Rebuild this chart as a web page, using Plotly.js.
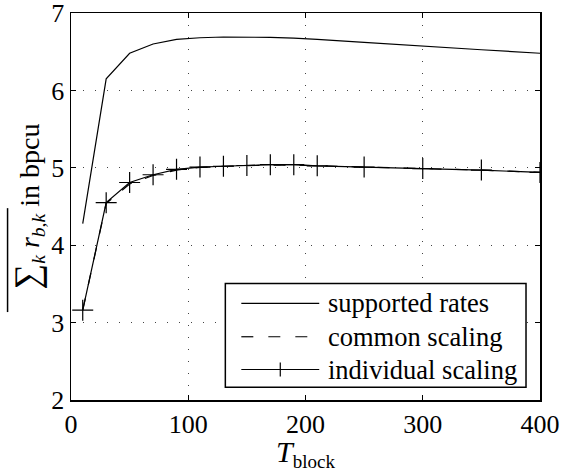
<!DOCTYPE html>
<html>
<head>
<meta charset="utf-8">
<script src="https://cdn.plot.ly/plotly-3.0.1.min.js"></script>
<style>html,body{margin:0;padding:0;background:#fff;}#chart{width:562px;height:472px;}</style>
</head>
<body>
<div id="chart"></div>
<script>
var tBlock = [10, 30, 50, 70, 90, 110, 130, 150, 170, 190, 210, 250, 300, 350, 400];
var supportedRates = [4.28, 6.15, 6.48, 6.60, 6.66, 6.68, 6.69, 6.69, 6.685, 6.675, 6.66, 6.62, 6.57, 6.525, 6.48];
var commonScaling = [3.16, 4.54, 4.79, 4.90, 4.97, 5.005, 5.02, 5.03, 5.035, 5.035, 5.025, 5.01, 4.99, 4.97, 4.94];
var individualScaling = [3.16, 4.55, 4.81, 4.91, 4.98, 5.01, 5.02, 5.03, 5.04, 5.04, 5.025, 5.01, 4.99, 4.97, 4.94];
var seriesNames = ['supported rates', 'common scaling', 'individual scaling'];
var xTicks = [0, 100, 200, 300, 400];
var yTicks = [2, 3, 4, 5, 6, 7];

var FONT = 'Liberation Serif, DejaVu Serif';

var traces = [
  {x: tBlock, y: supportedRates, name: seriesNames[0], mode: 'lines', type: 'scatter',
   line: {color: '#000', width: 1.2}},
  {x: tBlock, y: commonScaling, name: seriesNames[1], mode: 'lines', type: 'scatter',
   line: {color: '#000', width: 1.2, dash: '12px,14px'}},
  {x: tBlock, y: individualScaling, name: seriesNames[2], mode: 'lines+markers', type: 'scatter',
   line: {color: '#000', width: 1.2},
   marker: {symbol: 'cross-thin', size: 15, color: '#000', line: {color: '#000', width: 1.2}}}
];

var axisCommon = {
  showline: true, linecolor: '#000', linewidth: 1.5, mirror: 'ticks',
  ticks: 'inside', ticklen: 5, tickwidth: 1, tickcolor: '#000',
  showgrid: true, gridcolor: '#444', gridwidth: 1, griddash: '1px,11px',
  zeroline: false, ticklabeloverflow: 'allow',
  tickfont: {family: FONT, size: 26, color: '#000'}
};

// custom legend (MATLAB style: long line samples)
function px2x(px) { return (px - 70.5) / 469.5; }
function px2y(py) { return (400 - py) / 387.3; }
var legRowsPx = [303.3, 336.7, 369.5];
var legX0 = px2x(241), legX1 = px2x(319), legTextX = px2x(327);
var legShapes = [
  {type: 'rect', xref: 'paper', yref: 'paper', x0: px2x(225), x1: px2x(526), y0: px2y(387.3), y1: px2y(283.3),
   fillcolor: '#fff', line: {color: '#000', width: 1.5}, layer: 'above'},
  {type: 'line', xref: 'paper', yref: 'paper', x0: legX0, x1: legX1, y0: px2y(legRowsPx[0]), y1: px2y(legRowsPx[0]),
   line: {color: '#000', width: 1.2}},
  {type: 'line', xref: 'paper', yref: 'paper', x0: legX0, x1: legX1, y0: px2y(legRowsPx[1]), y1: px2y(legRowsPx[1]),
   line: {color: '#000', width: 1.2, dash: '12px,15px'}},
  {type: 'line', xref: 'paper', yref: 'paper', x0: legX0, x1: legX1, y0: px2y(legRowsPx[2]), y1: px2y(legRowsPx[2]),
   line: {color: '#000', width: 1.2}},
  {type: 'line', xref: 'paper', yref: 'paper', x0: px2x(280), x1: px2x(280), y0: px2y(legRowsPx[2] - 7), y1: px2y(legRowsPx[2] + 7),
   line: {color: '#000', width: 1.2}}
];
var legAnnotations = seriesNames.map(function (n, i) {
  return {xref: 'paper', yref: 'paper', x: legTextX, y: px2y(legRowsPx[i]), xanchor: 'left', yanchor: 'middle',
          text: n, showarrow: false, borderpad: 0, font: {family: FONT, size: 26.5, color: '#000'}};
});

var layout = {
  width: 562, height: 472,
  margin: {l: 70.5, r: 22, t: 12.7, b: 72, pad: 0},
  paper_bgcolor: '#fff', plot_bgcolor: '#fff',
  font: {family: FONT, size: 26, color: '#000'},
  showlegend: false,
  xaxis: Object.assign({}, axisCommon, {
    range: [0, 400], tickvals: xTicks, ticktext: xTicks.map(String),
    title: {text: '<i>T</i><sub><span style="font-size:19px">block</span></sub>',
            font: {family: FONT, size: 30, color: '#000'}, standoff: 0}
  }),
  yaxis: Object.assign({}, axisCommon, {
    range: [2, 7], tickvals: yTicks, ticktext: yTicks.map(String),
    title: {text: '<span style="font-size:36px">∑</span><sub><i>k</i></sub> <i>r</i><sub><i>b,k</i></sub> in bpcu',
            font: {family: FONT, size: 28, color: '#000'}, standoff: 3}
  }),
  shapes: [
    {type: 'line', xref: 'paper', yref: 'paper', x0: px2x(7), x1: px2x(7), y0: px2y(312), y1: px2y(208),
     line: {color: '#000', width: 1.5}}
  ].concat(legShapes),
  annotations: legAnnotations
};

Plotly.newPlot('chart', traces, layout, {displayModeBar: false, staticPlot: true});
</script>
</body>
</html>
